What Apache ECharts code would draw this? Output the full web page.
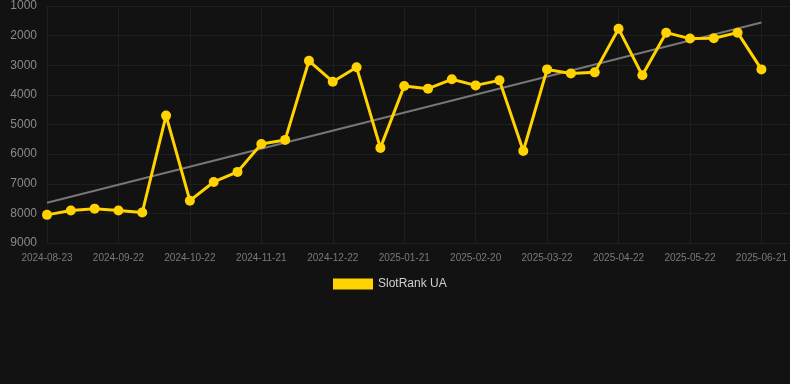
<!DOCTYPE html>
<html>
<head>
<meta charset="utf-8">
<script src="https://cdn.jsdelivr.net/npm/echarts@6/dist/echarts.min.js"></script>
<style>
html,body{margin:0;padding:0;background:#121212;}
#chart{width:790px;height:384px;}
</style>
</head>
<body>
<div id="chart"></div>
<script>
// Sample dates (one point every ~10 days)
const dates = [
  '2024-08-23','2024-09-02','2024-09-12','2024-09-22','2024-10-02','2024-10-12','2024-10-22',
  '2024-11-01','2024-11-11','2024-11-21','2024-12-02','2024-12-12','2024-12-22','2025-01-01',
  '2025-01-11','2025-01-21','2025-01-31','2025-02-10','2025-02-20','2025-03-02','2025-03-12',
  '2025-03-22','2025-04-02','2025-04-12','2025-04-22','2025-05-02','2025-05-12','2025-05-22',
  '2025-06-01','2025-06-11','2025-06-21'
];
// SlotRank UA rank values
const ranks = [
  8050, 7900, 7840, 7900, 7970, 4700, 7570,
  6940, 6600, 5660, 5520, 2850, 3555, 3070,
  5790, 3700, 3790, 3475, 3680, 3510, 5895,
  3140, 3275, 3240, 1765, 3340, 1900, 2100,
  2090, 1900, 3140
];
// Trend line end values (first and last sample)
const trendEnds = [7640, 1560];
// X tick labels (every third sample)
const tickLabels = [
  '2024-08-23','2024-09-22','2024-10-22','2024-11-21','2024-12-22','2025-01-21',
  '2025-02-20','2025-03-22','2025-04-22','2025-05-22','2025-06-21'
];
const yTicks = [1000, 2000, 3000, 4000, 5000, 6000, 7000, 8000, 9000];

const seriesData = ranks.map((v, i) => [i, v]);
const trendData = [[0, trendEnds[0]], [dates.length - 1, trendEnds[1]]];

const chart = echarts.init(document.getElementById('chart'), null, {renderer: 'canvas'});
chart.setOption({
  backgroundColor: '#121212',
  animation: false,
  grid: {left: 47, right: 0, top: 6, bottom: 141, containLabel: false},
  legend: {
    left: 328, top: 273,
    itemWidth: 40, itemHeight: 11, itemGap: 10,
    icon: 'rect',
    data: [{name: 'SlotRank UA', icon: 'rect'}],
    textStyle: {color: '#d0d0d0', fontSize: 12, fontFamily: 'Liberation Sans, Arial, sans-serif'}
  },
  xAxis: {
    type: 'value',
    min: 0,
    max: 31.2,
    interval: 3,
    axisLine: {show: false},
    axisTick: {show: false},
    splitLine: {show: true, lineStyle: {color: '#1f1f1f', width: 1}},
    axisLabel: {
      color: '#7a7a7a', fontSize: 10, margin: 10,
      fontFamily: 'Liberation Sans, Arial, sans-serif',
      showMaxLabel: false,
      formatter: function (v) {
        const k = Math.round(v / 3);
        if (Math.abs(v - k * 3) > 1e-6) return '';
        return tickLabels[k] || '';
      }
    }
  },
  yAxis: {
    type: 'value',
    inverse: true,
    min: yTicks[0],
    max: yTicks[yTicks.length - 1],
    interval: 1000,
    axisLine: {show: false},
    axisTick: {show: false},
    splitLine: {show: true, lineStyle: {color: '#1f1f1f', width: 1}},
    axisLabel: {
      color: '#8a8a8a', fontSize: 12, margin: 10,
      fontFamily: 'Liberation Sans, Arial, sans-serif',
      formatter: function (v) { return String(v); }
    }
  },
  series: [
    {
      name: 'Trend',
      type: 'line',
      data: trendData,
      symbol: 'none',
      lineStyle: {color: '#777777', width: 2},
      silent: true,
      z: 1
    },
    {
      name: 'SlotRank UA',
      type: 'line',
      data: seriesData,
      symbol: 'circle',
      symbolSize: 10,
      itemStyle: {color: '#FFD200'},
      lineStyle: {color: '#FFD200', width: 3},
      z: 2
    }
  ]
});
</script>
</body>
</html>
